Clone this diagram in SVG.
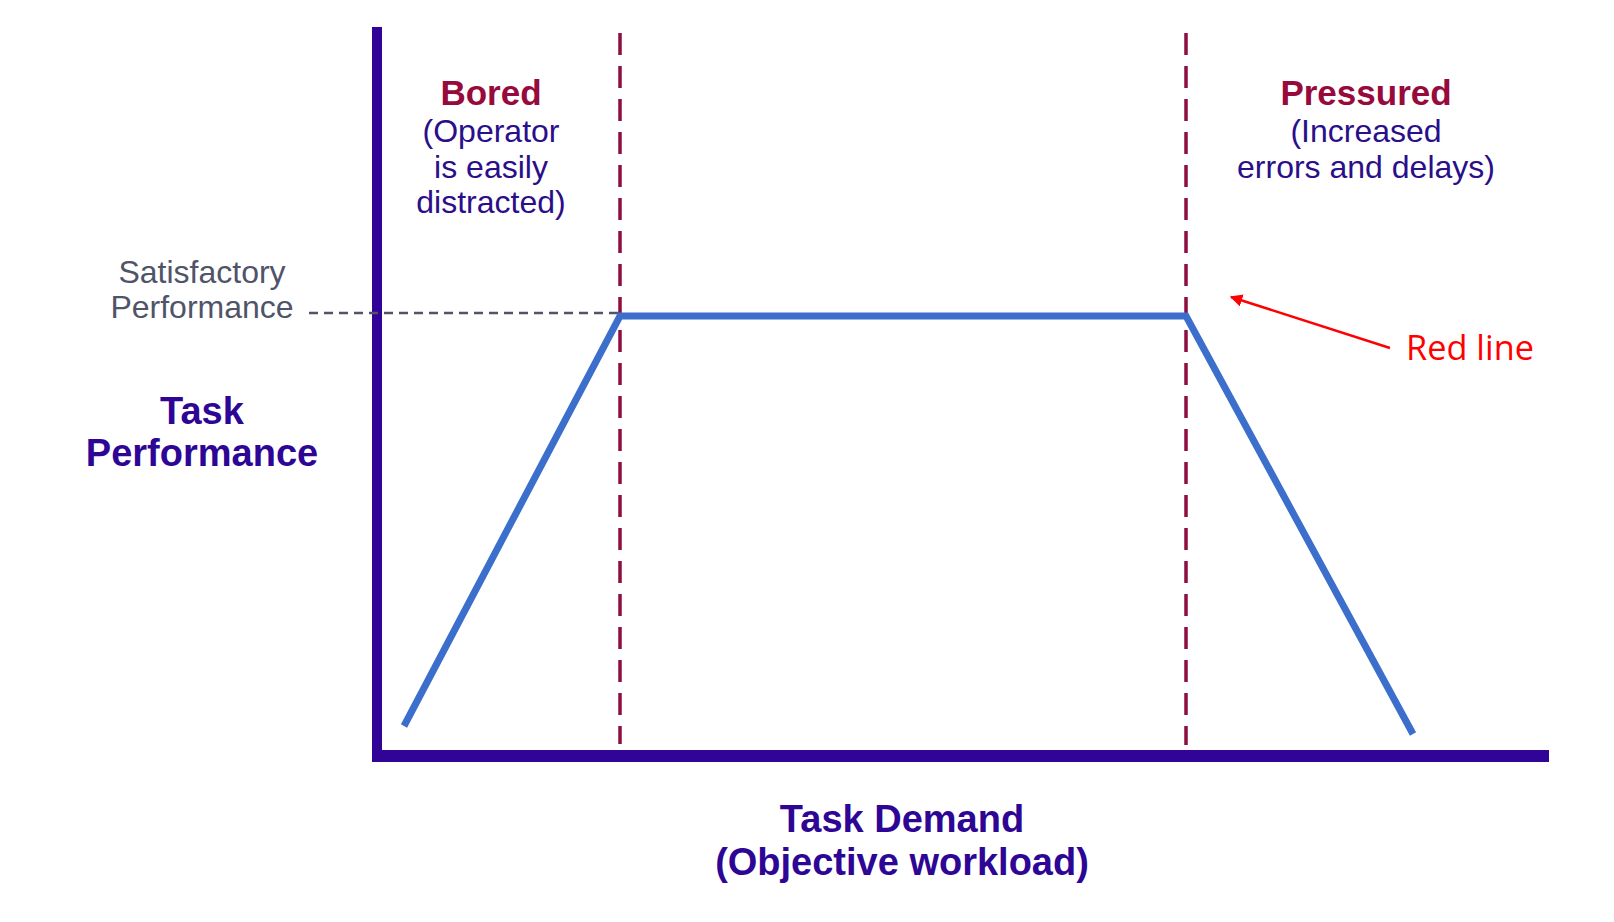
<svg xmlns="http://www.w3.org/2000/svg" width="1614" height="922" viewBox="0 0 1614 922">
  <style>
    .reg { font-family: "Liberation Sans", Arial, sans-serif; font-size: 32px; text-anchor: middle; }
    .bold { font-family: "Liberation Sans", Arial, sans-serif; font-weight: bold; text-anchor: middle; }
    .zone { fill: #2A0E8A; }
    .head { fill: #960A3C; font-size: 35px; }
    .axislab { fill: #2E0696; font-size: 38px; }
    .sat { fill: #4F5468; }
    .divider { stroke: #8E0E42; stroke-width: 3.5; stroke-dasharray: 22 11; fill: none; }
  </style>
  <defs>
    <marker id="arrowhead" viewBox="0 0 10 10" refX="9" refY="5" markerWidth="5" markerHeight="5" orient="auto-start-reverse" markerUnits="strokeWidth">
      <path d="M0,0 L10,5 L0,10 z" fill="#FF0000"/>
    </marker>
  </defs>
  <rect width="1614" height="922" fill="#FFFFFF"/>

  <g id="axes">
    <rect x="372" y="27" width="10" height="735" fill="#310497"/>
    <rect x="372" y="750" width="1177" height="12" fill="#310497"/>
  </g>

  <g id="satisfactory-level">
    <line x1="309" y1="313" x2="620" y2="313" stroke="#4F5468" stroke-width="2.5" stroke-dasharray="9 6"/>
    <text class="reg sat" x="202" y="283">Satisfactory</text>
    <text class="reg sat" x="202" y="318">Performance</text>
  </g>

  <g id="zone-dividers">
    <line class="divider" x1="620" y1="33" x2="620" y2="744"/>
    <line class="divider" x1="1186" y1="33" x2="1186" y2="745"/>
  </g>

  <g id="performance-curve">
    <polyline points="404,726 620,316 1186,316 1413,734" fill="none" stroke="#3C6FCB" stroke-width="7" stroke-linejoin="miter"/>
  </g>

  <g id="bored">
    <text class="bold head" x="491" y="105">Bored</text>
    <text class="reg zone" x="491" y="142">(Operator</text>
    <text class="reg zone" x="491" y="178">is easily</text>
    <text class="reg zone" x="491" y="213">distracted)</text>
  </g>

  <g id="pressured">
    <text class="bold head" x="1366" y="105">Pressured</text>
    <text class="reg zone" x="1366" y="142">(Increased</text>
    <text class="reg zone" x="1366" y="178">errors and delays)</text>
  </g>

  <g id="y-axis-label">
    <text class="bold axislab" x="202" y="424">Task</text>
    <text class="bold axislab" x="202" y="466">Performance</text>
  </g>

  <g id="x-axis-label">
    <text class="bold axislab" x="902" y="832">Task Demand</text>
    <text class="bold axislab" x="902" y="875">(Objective workload)</text>
  </g>

  <g id="red-line-note">
    <text x="1406" y="360" font-family="'Open Sans', 'Noto Sans', sans-serif" font-size="34" font-weight="500" fill="#FF0000" textLength="128" lengthAdjust="spacingAndGlyphs">Red line</text>
  </g>

  <g id="connectors">
    <line x1="1390" y1="348" x2="1231" y2="297" stroke="#FF0000" stroke-width="2.5" marker-end="url(#arrowhead)"/>
  </g>
</svg>
